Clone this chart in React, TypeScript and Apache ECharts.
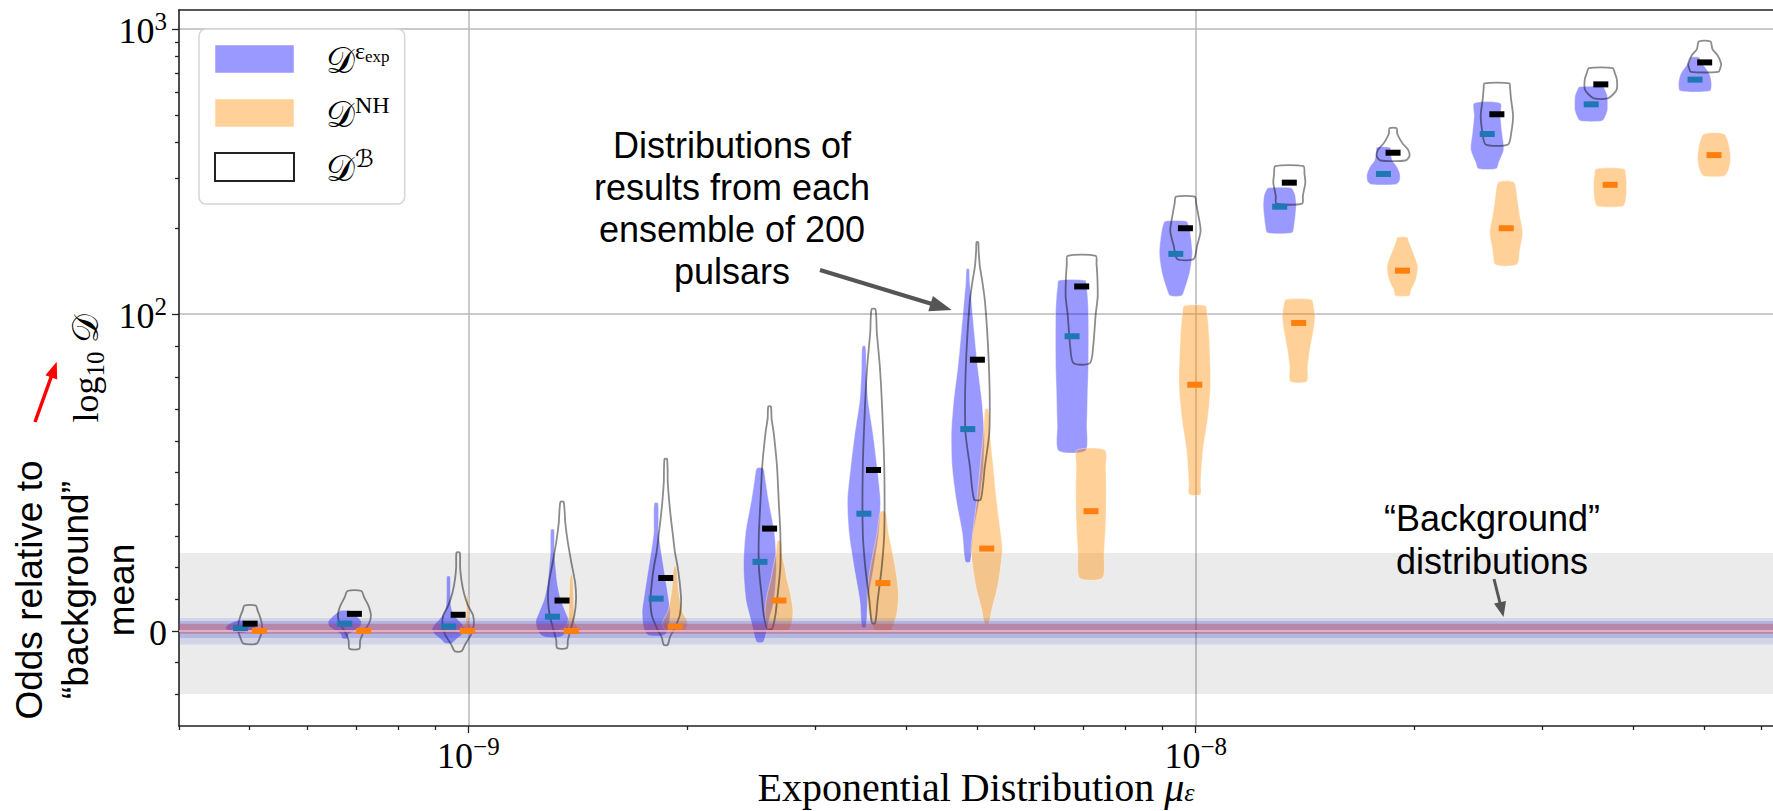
import React, { useEffect, useRef } from 'react';
import * as echarts from 'echarts';

// ---------------- data ----------------
// ensemble positions (exponential distribution mean mu_eps)
const muValues = [5.01e-10, 6.97e-10, 9.68e-10, 1.345e-9, 1.868e-9, 2.595e-9, 3.606e-9, 5.01e-9, 6.97e-9, 9.68e-9, 1.345e-8, 1.868e-8, 2.595e-8, 3.606e-8, 5.01e-8];
// mean markers of each distribution
const blueMeans = [0.9, 2.3, 1.4, 4.5, 10.2, 21.8, 37, 63.7, 93, 162.6, 238, 310, 428, 544, 664];
const blackMeans = [2.3, 5.4, 5.1, 9.6, 16.7, 32.3, 50.8, 85.6, 125, 200, 289, 368, 502, 639, 763];
const orangeMeans = [0, 0, 0, 0, 1.4, 9.6, 15.1, 26, 37.8, 77.7, 97.2, 142, 200, 284, 361];

// violin profiles: [value, relative density width]
const blueShapes = [
  [[-0.6, 0.2], [0, 0.6], [0.8, 0.9], [1.8, 0.8], [2.8, 0.45], [3.3, 0.2]],
  [[-2.4, 0.15], [-1, 0.25], [0, 0.55], [1.5, 0.95], [3, 1], [4.5, 0.75], [6, 0.4], [6.5, 0.2]],
  [[-3.9, 0.2], [-2.5, 0.5], [-1, 0.85], [0.5, 1], [2, 0.85], [4, 0.5], [6, 0.25], [8, 0.15], [12, 0.12], [17.2, 0.1]],
  [[-2, 0.4], [-1, 0.75], [1, 0.95], [3.3, 1], [6, 0.8], [10, 0.5], [15, 0.3], [20, 0.2], [25, 0.12], [32, 0.1]],
  [[-1.4, 0.45], [0, 0.7], [3, 0.82], [6.5, 0.85], [12, 0.7], [17, 0.55], [22, 0.4], [27, 0.25], [31, 0.15], [40.3, 0.12]],
  [[-3.5, 0.2], [0, 0.4], [3.3, 0.55], [9.6, 0.85], [20.2, 1], [30.8, 0.88], [41.3, 0.52], [47, 0.35], [51.3, 0.2]],
  [[1.2, 0.12], [9.6, 0.25], [20.2, 0.6], [30.8, 0.9], [41.3, 1], [51.8, 0.8], [62.4, 0.55], [72.9, 0.25], [82, 0.15], [89.8, 0.1]],
  [[21.8, 0.15], [30.8, 0.33], [41.3, 0.7], [51.8, 0.95], [62.4, 1], [72.9, 0.85], [83.4, 0.6], [94, 0.4], [112, 0.22], [130, 0.12], [144, 0.08]],
  [[56.9, 0.82], [65, 0.9], [75, 0.95], [85, 1], [100, 1], [115, 0.95], [125, 0.88], [131.3, 0.8]],
  [[116, 0.35], [121.8, 0.53], [139.5, 0.84], [163.9, 1], [192.8, 0.88], [205, 0.78], [211.8, 0.65]],
  [[192.8, 0.75], [205, 0.88], [220.6, 0.95], [240, 1], [260, 0.95], [272, 0.82], [277.4, 0.68]],
  [[285, 0.75], [293, 0.98], [310, 1], [330, 0.8], [345, 0.55], [365, 0.45], [384, 0.4]],
  [[323.5, 0.55], [340, 0.7], [378, 1], [432, 0.9], [496, 0.8], [549, 0.8]],
  [[476, 0.67], [500, 0.9], [524, 1], [583, 0.98], [610, 0.85], [627, 0.72]],
  [[606, 0.9], [644, 1], [694, 0.88], [745, 0.52], [770, 0.35], [795, 0.26]],
];
const blackShapes = [
  [[-4, 0.4], [-2, 0.6], [0, 0.72], [2, 0.72], [4.5, 0.6], [6.5, 0.45], [8, 0.35]],
  [[-5.6, 0.3], [-3, 0.35], [0, 0.6], [2.5, 0.9], [5, 1], [8, 0.85], [10.5, 0.6], [12.6, 0.42]],
  [[-6.4, 0.2], [-4, 0.45], [-1, 0.8], [2, 0.95], [5, 0.9], [8, 0.6], [12, 0.35], [16, 0.2], [20, 0.12], [24.7, 0.1]],
  [[-5.4, 0.3], [-3, 0.35], [0, 0.5], [5, 0.75], [10, 0.85], [15, 0.8], [22, 0.55], [28, 0.35], [34, 0.2], [40.7, 0.1]],
  [[-4.4, 0.12], [-2, 0.25], [1, 0.55], [5, 0.85], [9.6, 0.93], [15, 0.85], [20.2, 0.72], [25, 0.55], [30.8, 0.42], [36, 0.3], [41.3, 0.2], [47, 0.12], [54.2, 0.08]],
  [[0.7, 0.15], [5, 0.35], [9.6, 0.45], [20.2, 0.65], [30.8, 0.65], [41.3, 0.55], [51.8, 0.45], [62.4, 0.25], [67, 0.12], [70.8, 0.08]],
  [[2.5, 0.1], [9.6, 0.25], [20.2, 0.5], [30.8, 0.65], [51.8, 0.65], [72.9, 0.5], [83.6, 0.38], [94.2, 0.2], [104, 0.12]],
  [[41.5, 0.2], [51.8, 0.45], [62.4, 0.72], [72.9, 0.75], [83.4, 0.7], [94, 0.6], [112, 0.45], [130, 0.3], [147, 0.15], [165, 0.08], [178.6, 0.05]],
  [[84.5, 0.5], [90, 0.7], [100, 0.85], [115, 0.97], [135, 0.95], [150, 0.9], [160, 0.85]],
  [[156, 0.5], [172.8, 0.7], [196, 0.92], [226, 0.76], [245, 0.65], [258, 0.57]],
  [[244, 0.78], [260, 0.82], [288.7, 0.97], [310, 0.92], [330, 0.85]],
  [[345.6, 0.75], [359, 1], [378, 0.9], [395, 0.6], [409, 0.43], [430, 0.25], [448.6, 0.22]],
  [[393.3, 0.68], [432, 0.87], [496, 0.98], [573, 0.85], [620, 0.8], [644, 0.75]],
  [[571, 0.42], [590, 0.75], [614, 0.97], [666, 0.97], [700, 0.85], [729, 0.72]],
  [[707, 0.83], [730, 0.95], [755, 1], [808, 0.78], [850, 0.47], [903, 0.35]],
];
const orangeShapes = [
  [[-0.8, 0.3], [0, 0.55], [0.8, 0.3]],
  [[-0.8, 0.3], [0, 0.55], [0.8, 0.3]],
  [[-1, 0.3], [0, 0.7], [1, 0.4], [2, 0.15], [5, 0.08], [11.2, 0.05]],
  [[-1, 0.3], [0, 0.78], [1, 0.4], [3, 0.2], [8, 0.15], [13, 0.12], [17.6, 0.06]],
  [[-0.4, 0.4], [1, 0.7], [3, 0.75], [6, 0.45], [9.6, 0.3], [14, 0.18], [20.2, 0.08]],
  [[0, 0.55], [3, 0.8], [6.5, 0.85], [11.8, 0.7], [16, 0.5], [20.2, 0.35], [24, 0.2], [28.4, 0.1]],
  [[0, 0.45], [5.5, 0.85], [11.8, 0.95], [20.2, 0.75], [30.8, 0.35], [37.6, 0.15]],
  [[2.3, 0.13], [6.5, 0.3], [15, 0.7], [25.5, 0.95], [30.8, 0.85], [41.3, 0.6], [51.8, 0.4], [62.4, 0.2], [70, 0.1]],
  [[16.7, 0.7], [25, 0.8], [35, 0.9], [45, 0.92], [52, 0.9], [57.1, 0.85]],
  [[43.1, 0.35], [46.6, 0.36], [57.1, 0.5], [67.6, 0.8], [78.2, 0.96], [94, 0.86], [101, 0.75], [107, 0.64]],
  [[78.7, 0.5], [83.4, 0.55], [88.7, 0.68], [94, 0.87], [99.3, 1], [106, 0.92], [112.4, 0.78]],
  [[116, 0.43], [121.8, 0.53], [132, 0.82], [147, 0.93], [168.5, 0.58], [180, 0.38], [186, 0.3]],
  [[149.2, 0.65], [168.5, 0.83], [193, 1], [220.6, 0.83], [252, 0.68], [290, 0.47]],
  [[239, 0.78], [252, 0.95], [281, 1], [310, 0.95], [323.5, 0.85]],
  [[305, 0.62], [321, 0.88], [349, 1], [388, 0.92], [428, 0.62]],
];

// background distributions (shaded bands around zero)
const backgroundRange = [-19.9, 24.6];
const backgroundBands = [[-4.3, 4.1], [-2.2, 3.1], [-0.9, 2.3]];
const backgroundCenter = 0;

// axes
const X_MIN = 4.0e-10;
const X_MAX = 6.22e-8;
const Y_MIN = -30;
const Y_MAX = 1165;
const xMajorTicks = [1e-9, 1e-8];
const xMinorTicks = [4e-10, 5e-10, 6e-10, 7e-10, 8e-10, 9e-10, 2e-9, 3e-9, 4e-9, 5e-9, 6e-9, 7e-9, 8e-9, 9e-9, 2e-8, 3e-8, 4e-8, 5e-8, 6e-8];
const yMajorTicks = [0, 100, 1000];
const yMinorTicks = [-20, -10, 10, 20, 30, 40, 50, 60, 70, 80, 90, 200, 300, 400, 500, 600, 700, 800, 900];

// ---------------- helpers ----------------
const LINTHRESH = 100;
const LINSCALE = 1 / (1 - 1 / 10);
function symlog(v: number) {
  const a = Math.abs(v);
  if (a <= LINTHRESH) return (v / LINTHRESH) * LINSCALE;
  return Math.sign(v) * (LINSCALE + Math.log10(a / LINTHRESH));
}
const lg = (v: number) => Math.log10(v);

const SERIF = "'Liberation Serif', 'DejaVu Serif', 'DejaVu Sans', serif";
const SANS = "'Liberation Sans', Arial, sans-serif";
const HALF = 16.5;
const BLUE_OFF = 0.97;
const ORANGE_OFF = 1.03;

function violinSeries(name: string, shapes: number[][][], means: number[], off: number, style: any, z: number, color: string) {
  return {
    type: 'custom',
    name,
    z,
    silent: true,
    itemStyle: { color },
    data: muValues.map((m, i) => [lg(m * off), symlog(means[i])]),
    renderItem: (params: any, api: any) => {
      const i = params.dataIndex;
      const xv = api.value(0);
      const cx = api.coord([xv, 0])[0];
      const prof = shapes[i];
      const left = prof.map(([v, w]) => [cx - w * HALF, api.coord([xv, symlog(v)])[1]]);
      const right = prof.slice().reverse().map(([v, w]) => [cx + w * HALF, api.coord([xv, symlog(v)])[1]]);
      return {
        type: 'polygon',
        shape: { points: [...left, ...right], smooth: 0.25 },
        style,
      };
    },
  };
}

function markerSeries(means: number[], off: number, color: string) {
  return {
    type: 'scatter',
    z: 6,
    silent: true,
    symbol: 'rect',
    symbolSize: [15, 6],
    itemStyle: { color, opacity: 1 },
    data: muValues.map((m, i) => [lg(m * off), symlog(means[i])]),
  };
}

const bandColors = ['rgba(70,90,200,0.15)', 'rgba(60,60,210,0.2)', 'rgba(190,50,70,0.35)'];

export default function App() {
  const ref = useRef<HTMLDivElement>(null);
  useEffect(() => {
    if (!ref.current) return;
    const chart = echarts.init(ref.current, undefined, { renderer: 'svg' });
    const xMin = lg(X_MIN), xMax = lg(X_MAX), yMin = symlog(Y_MIN), yMax = symlog(Y_MAX);
    const tickLine = { color: '#222', width: 1.3 };
    const spine = { color: '#222', width: 1.6 };

    const legendNames: Record<string, string> = {
      Dexp: '{d|𝒟}{sp|ε}{ss|exp}',
      DNH: '{d|𝒟}{sp|NH}',
      DB: '{d|𝒟}{sp|ℬ}',
    };

    const option: any = {
      animation: false,
      backgroundColor: '#ffffff',
      grid: { left: 179, right: 0, top: 10, bottom: 85, containLabel: false, outerBoundsMode: 'none' },
      legend: {
        orient: 'vertical',
        left: 199,
        top: 29,
        itemWidth: 79,
        itemHeight: 28,
        itemGap: 14,
        padding: [10, 15, 17, 15],
        backgroundColor: 'rgba(255,255,255,0.85)',
        borderColor: '#d6d6d6',
        borderWidth: 1.5,
        borderRadius: 7,
        selectedMode: false,
        data: [
          { name: 'Dexp', icon: 'rect', itemStyle: { color: 'rgba(0,0,255,0.4)', borderColor: 'rgba(255,255,255,0.5)', borderWidth: 1 } },
          { name: 'DNH', icon: 'rect', itemStyle: { color: 'rgba(255,140,0,0.4)', borderColor: 'rgba(255,255,255,0.5)', borderWidth: 1 } },
          { name: 'DB', icon: 'rect', itemStyle: { color: '#ffffff', borderColor: '#222', borderWidth: 2 } },
        ],
        formatter: (n: string) => legendNames[n],
        textStyle: {
          color: '#000',
          fontFamily: SERIF,
          rich: {
            d: { fontFamily: SERIF, fontSize: 36, lineHeight: 40, verticalAlign: 'bottom', padding: [0, 0, 0, 27], color: '#000' },
            sp: { fontFamily: SERIF, fontSize: 24, lineHeight: 24, verticalAlign: 'top', color: '#000' },
            ss: { fontFamily: SERIF, fontSize: 17, lineHeight: 17, verticalAlign: 'top', padding: [9, 0, 0, 0], color: '#000' },
          },
        },
      },
      xAxis: [
        {
          type: 'value', min: xMin, max: xMax, position: 'bottom',
          axisLine: { show: true, onZero: false, lineStyle: spine },
          axisTick: { show: true, customValues: xMajorTicks.map(lg), length: 7, lineStyle: tickLine },
          axisLabel: {
            show: true, customValues: xMajorTicks.map(lg), margin: 8,
            formatter: (v: number) => { const e = Math.round(v); return `{b|10}{s|${e < 0 ? '−' : ''}${Math.abs(e)}}`; },
            rich: {
              b: { fontFamily: SERIF, fontSize: 36, lineHeight: 40, verticalAlign: 'bottom', color: '#000' },
              s: { fontFamily: SERIF, fontSize: 25, lineHeight: 25, verticalAlign: 'top', color: '#000' },
            },
          },
          splitLine: { show: true, lineStyle: { color: '#b8b8b8', width: 1.5 } },
          name: '{t|Exponential Distribution }{m|μ}{e|ε}',
          nameLocation: 'middle',
          nameGap: 43,
          nameMoveOverlap: false,
          nameTextStyle: {
            fontFamily: SERIF, fontSize: 40, color: '#000',
            rich: {
              t: { fontFamily: SERIF, fontSize: 40, lineHeight: 36, color: '#000' },
              m: { fontFamily: SERIF, fontSize: 40, fontStyle: 'italic', lineHeight: 36, color: '#000' },
              e: { fontFamily: SERIF, fontSize: 26, fontStyle: 'italic', lineHeight: 22, verticalAlign: 'bottom', color: '#000' },
            },
          },
        },
        {
          type: 'value', min: xMin, max: xMax, position: 'bottom',
          axisLine: { show: false, onZero: false },
          axisTick: { show: true, customValues: xMinorTicks.map(lg), length: 4, lineStyle: tickLine },
          axisLabel: { show: false },
          splitLine: { show: false },
        },
        {
          type: 'value', min: xMin, max: xMax, position: 'top',
          axisLine: { show: true, onZero: false, lineStyle: spine },
          axisTick: { show: false },
          axisLabel: { show: false },
          splitLine: { show: false },
        },
      ],
      yAxis: [
        {
          type: 'value', min: yMin, max: yMax, position: 'left',
          axisLine: { show: true, onZero: false, lineStyle: spine },
          axisTick: { show: true, customValues: yMajorTicks.map(symlog), length: 7, lineStyle: tickLine },
          axisLabel: {
            show: true, customValues: yMajorTicks.map(symlog), margin: 12,
            formatter: (v: number) => (Math.abs(v) < 1e-6 ? '{b|0}' : `{b|10}{s|${Math.round(v - LINSCALE) + 2}}`),
            rich: {
              b: { fontFamily: SERIF, fontSize: 36, lineHeight: 40, verticalAlign: 'bottom', color: '#000' },
              s: { fontFamily: SERIF, fontSize: 25, lineHeight: 25, verticalAlign: 'top', color: '#000' },
            },
          },
          splitLine: { show: true, lineStyle: { color: '#b8b8b8', width: 1.5 } },
          name: 'log{sub|10} {d|𝒟}',
          nameLocation: 'middle',
          nameRotate: 90,
          nameGap: 70,
          nameTextStyle: {
            fontFamily: SERIF, fontSize: 36, lineHeight: 44, color: '#000',
            rich: {
              sub: { fontFamily: SERIF, fontSize: 25, lineHeight: 25, verticalAlign: 'bottom', color: '#000' },
              d: { fontFamily: SERIF, fontSize: 36, lineHeight: 44, color: '#000' },
            },
          },
        },
        {
          type: 'value', min: yMin, max: yMax, position: 'left',
          axisLine: { show: false, onZero: false },
          axisTick: { show: true, customValues: yMinorTicks.map(symlog), length: 4, lineStyle: tickLine },
          axisLabel: { show: false },
          splitLine: { show: false },
        },
      ],
      series: [
        {
          type: 'custom', z: 1, silent: true,
          data: [[symlog(backgroundRange[0]), symlog(backgroundRange[1])]],
          renderItem: (params: any, api: any) => {
            const cs = params.coordSys;
            const y1 = api.coord([xMin, api.value(1)])[1];
            const y2 = api.coord([xMin, api.value(0)])[1];
            return { type: 'rect', shape: { x: cs.x, y: y1, width: cs.width, height: y2 - y1 }, style: { fill: 'rgba(0,0,0,0.08)' } };
          },
        },
        violinSeries('Dexp', blueShapes, blueMeans, BLUE_OFF, { fill: 'rgba(0,0,255,0.4)', stroke: 'rgba(255,255,255,0.4)', lineWidth: 1 }, 2, 'rgba(0,0,255,0.4)'),
        violinSeries('DNH', orangeShapes, orangeMeans, ORANGE_OFF, { fill: 'rgba(255,140,0,0.4)', stroke: 'rgba(255,255,255,0.4)', lineWidth: 1 }, 2, 'rgba(255,140,0,0.4)'),
        violinSeries('DB', blackShapes, blackMeans, 1, { fill: 'none', stroke: 'rgba(0,0,0,0.45)', lineWidth: 1.8 }, 3, '#222'),
        {
          type: 'custom', z: 4, silent: true,
          data: backgroundBands.map((b) => [symlog(b[0]), symlog(b[1])]),
          renderItem: (params: any, api: any) => {
            const cs = params.coordSys;
            const y1 = api.coord([xMin, api.value(1)])[1];
            const y2 = api.coord([xMin, api.value(0)])[1];
            const children: any[] = [
              { type: 'rect', shape: { x: cs.x, y: y1, width: cs.width, height: y2 - y1 }, style: { fill: bandColors[params.dataIndex] } },
            ];
            if (params.dataIndex === backgroundBands.length - 1) {
              const yc = api.coord([xMin, symlog(backgroundCenter)])[1];
              children.push({ type: 'line', shape: { x1: cs.x, y1: yc, x2: cs.x + cs.width, y2: yc }, style: { stroke: 'rgba(255,200,205,0.95)', lineWidth: 1.5 } });
            }
            return { type: 'group', children };
          },
        },
        markerSeries(blueMeans, BLUE_OFF, '#1f77b4'),
        markerSeries(blackMeans, 1, '#000000'),
        markerSeries(orangeMeans, ORANGE_OFF, '#ff7f0e'),
      ],
      graphic: [
        {
          type: 'text', x: 75, y: 590, rotation: Math.PI / 2, z: 100,
          style: { text: 'Odds relative to\n“background”\nmean', fontFamily: SANS, fontSize: 37, lineHeight: 46, align: 'center', verticalAlign: 'middle', textAlign: 'center', textVerticalAlign: 'middle', fill: '#000' },
        },
        { type: 'line', z: 100, shape: { x1: 35, y1: 422, x2: 51.5, y2: 376 }, style: { stroke: '#ff0000', lineWidth: 3.5 } },
        { type: 'polygon', z: 100, shape: { points: [[56.7, 361.7], [57.2, 379.5], [45.4, 375.2]] }, style: { fill: '#ff0000' } },
        {
          type: 'text', x: 732, y: 208, z: 100,
          style: { text: 'Distributions of\nresults from each\nensemble of 200\npulsars', fontFamily: SANS, fontSize: 36, lineHeight: 42, align: 'center', verticalAlign: 'middle', textAlign: 'center', textVerticalAlign: 'middle', fill: '#000' },
        },
        { type: 'line', z: 100, shape: { x1: 820, y1: 270, x2: 932, y2: 304 }, style: { stroke: '#555', lineWidth: 4 } },
        { type: 'polygon', z: 100, shape: { points: [[951.7, 310], [928.3, 311.3], [932.9, 295.9]] }, style: { fill: '#555' } },
        {
          type: 'text', x: 1492, y: 540, z: 100,
          style: { text: '“Background”\ndistributions', fontFamily: SANS, fontSize: 36, lineHeight: 43, align: 'center', verticalAlign: 'middle', textAlign: 'center', textVerticalAlign: 'middle', fill: '#000' },
        },
        { type: 'line', z: 100, shape: { x1: 1494, y1: 579, x2: 1500, y2: 603 }, style: { stroke: '#555', lineWidth: 3 } },
        { type: 'polygon', z: 100, shape: { points: [[1503.5, 617], [1494, 603.6], [1506, 601]] }, style: { fill: '#555' } },
      ],
    };
    chart.setOption(option);
    return () => chart.dispose();
  }, []);
  return <div ref={ref} style={{ position: 'fixed', left: 0, top: 0, width: 1773, height: 811, background: '#fff' }} />;
}
